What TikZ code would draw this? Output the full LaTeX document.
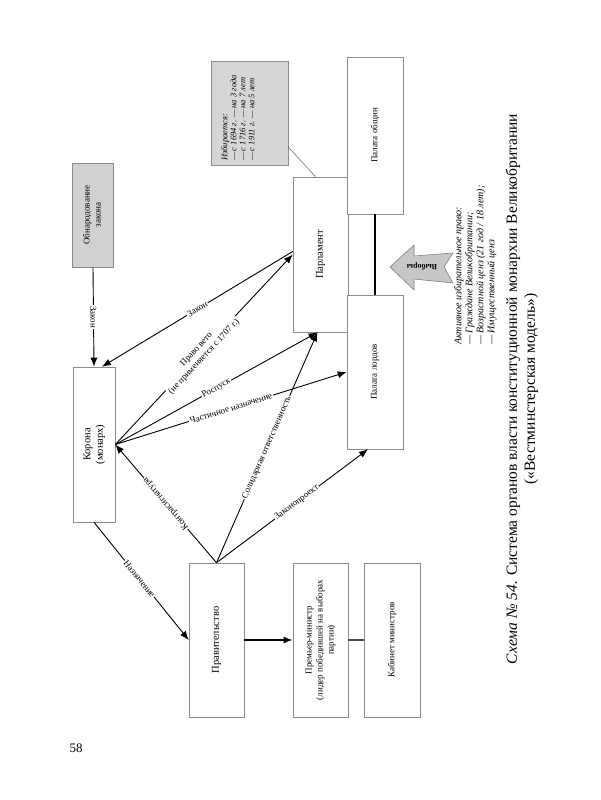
\documentclass[tikz,border=0pt]{standalone}
\usepackage{fontspec}
\setmainfont{Liberation Serif}
\usetikzlibrary{arrows.meta}
\begin{document}
\begin{tikzpicture}[x=1pt,y=-1pt,
 box/.style={draw=black!45, line width=0.6pt, fill=white, inner sep=0pt},
 conn/.style={draw=black, line width=0.9pt},
 arr/.style={conn, -{Latex[length=9pt,width=7pt]}},
 lbl/.style={fill=white, inner sep=1pt, font=\fontsize{9}{10.5}\selectfont, sloped},
 bt/.style={font=\fontsize{10.5}{12.5}\selectfont},
 st/.style={font=\fontsize{9}{11}\selectfont}
]
\useasboundingbox (0,0) rectangle (600,800);

% boxes
\node[box, st, fill=black!18, minimum width=41, minimum height=104] (pub) at (93,215)
  {\rotatebox{90}{\begin{tabular}{@{}c@{}}Обнародование\\закона\end{tabular}}};
\node[box, bt, minimum width=42, minimum height=155] (crown) at (94,444.5)
  {\rotatebox{90}{\begin{tabular}{@{}c@{}}Корона\\(монарх)\end{tabular}}};
\node[box, bt, minimum width=55, minimum height=154] (gov) at (216.5,640)
  {\rotatebox{90}{Правительство}};
\node[box, st, minimum width=55, minimum height=154] (pm) at (320.5,640)
  {\rotatebox{90}{\begin{tabular}{@{}c@{}}Премьер-министр\\(лидер победившей на выборах\\партии)\end{tabular}}};
\node[box, st, minimum width=56, minimum height=154] (cab) at (392,640)
  {\rotatebox{90}{Кабинет министров}};
\node[box, bt, minimum width=55, minimum height=155] (parl) at (320.5,254.5)
  {\rotatebox{90}{Парламент}};
\node[box, st, minimum width=56, minimum height=157] (commons) at (375,135.5)
  {\rotatebox{90}{Палата общин}};
\node[box, st, minimum width=56, minimum height=154] (lords) at (375,372)
  {\rotatebox{90}{Палата лордов}};
\node[box, fill=black!16, minimum width=77, minimum height=104] (note) at (249.5,113) {};
\node[rotate=90, anchor=north west, align=left, inner sep=0pt,
      font=\fontsize{8.5}{9}\selectfont\itshape] (notetxt) at (221,161)
  {Избирается:\\— с 1694 г. — на 3 года\\— с 1716 г. — на 7 лет\\— с 1911 г. — на 5 лет};

% connectors
\draw[conn, line width=1.2pt] (commons.south) -- (lords.north);
\draw[draw=black!55, line width=0.6pt] ([yshift=-34pt]note.east) -- ([xshift=-5pt]parl.north);

\draw[arr] (pub.south) -- node[lbl, rotate=0] {Закон} (crown.north);
\draw[arr] ([yshift=3pt]parl.west) -- node[lbl, pos=0.5] {Закон} ([xshift=8pt]crown.north);
\draw[arr] (crown.east) -- node[lbl, pos=0.48, align=center] {Право вето\\(не применяется с 1707 г.)} (parl.west);
\draw[arr] (crown.east) -- node[lbl, pos=0.5] {Роспуск} ([xshift=-3pt]parl.south);
\draw[arr] (crown.east) -- node[lbl, pos=0.5] {Частичное назначение} (lords.west);
\draw[arr] (gov.north) -- node[lbl, pos=0.5, allow upside down] {Контрасигнатура} (crown.east);
\draw[arr] (gov.north) -- node[lbl, pos=0.5] {Солидарная ответственность} ([xshift=-3pt]parl.south);
\draw[arr] (gov.north) -- node[lbl, pos=0.53] {Законопроект} ([xshift=-7pt]lords.south);
\draw[arr] (crown.south) -- node[lbl, pos=0.48] {Назначение} (gov.west);
\draw[arr, line width=1.4pt] (gov.east) -- (pm.west);
\draw[conn, line width=1.6pt, draw=black!70] (pm.east) -- (cab.west);

% elections arrow
\draw[draw=black!50, fill=black!22, line width=0.6pt]
  (390,267) -- (414,245) -- (414,256) -- (453,253) -- (444,267) -- (453,283)
  -- (414,279) -- (414,290) -- cycle;
\node[rotate=180, font=\fontsize{8}{9}\selectfont\bfseries] (vyb) at (422,267) {Выборы};

\node[rotate=90, anchor=north west, align=left, inner sep=0pt,
      font=\fontsize{10}{11}\selectfont\itshape] (suffr) at (454,345)
  {Активное избирательное право:\\— Граждане Великобритании;\\— Возрастной ценз (21 год / 18 лет);\\— Имущественный ценз};

% title
\node[rotate=90, align=center, font=\fontsize{15.5}{18}\selectfont] (title) at (522,389)
  {\textit{Схема № 54.} Система органов власти конституционной монархии Великобритании\\(«Вестминстерская модель»)};
\node[font=\fontsize{13}{15}\selectfont] (page) at (76,748) {58};
\end{tikzpicture}
\end{document}
